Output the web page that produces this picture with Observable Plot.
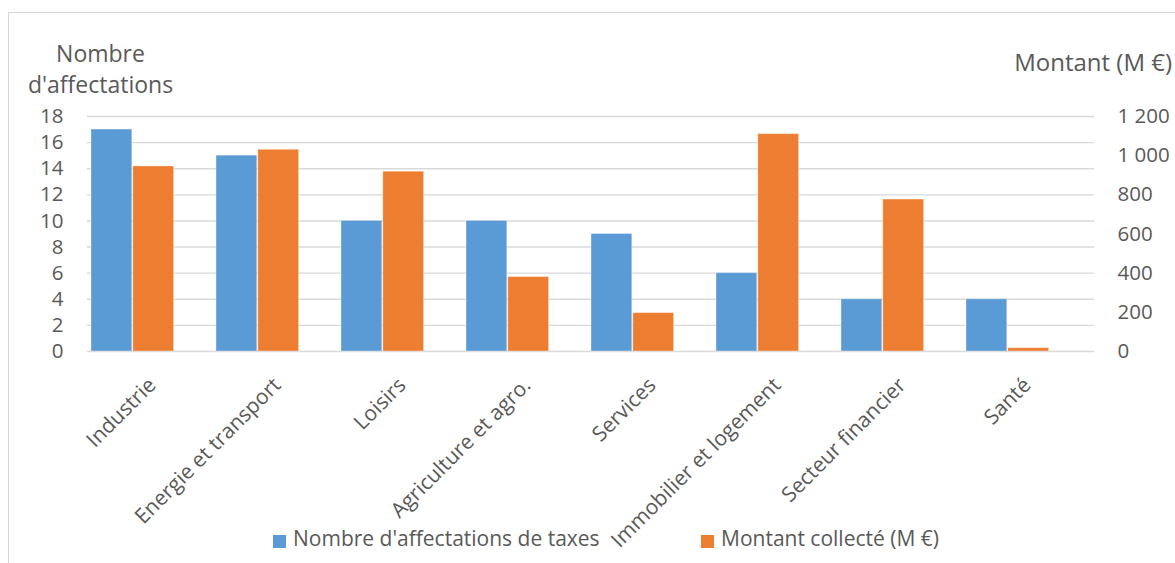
<!DOCTYPE html>
<html lang="fr">
<head>
<meta charset="utf-8">
<script src="https://cdn.jsdelivr.net/npm/d3@7"></script>
<script src="https://cdn.jsdelivr.net/npm/@observablehq/plot@0.6"></script>
<style>
  html, body { margin: 0; padding: 0; background: #fff; overflow: hidden; }
  #chart { position: relative; width: 1175px; height: 563px; font-family: "Open Sans", sans-serif; color: #595959; }
  #chart svg { position: absolute; left: 0; top: 0; }
  .border { position: absolute; left: 8px; top: 12px; width: 1300px; height: 700px; border-left: 1.3px solid #d9d9d9; border-top: 1.3px solid #d9d9d9; }
  .title { position: absolute; font-size: 23px; line-height: 31px; white-space: nowrap; }
  .legend { position: absolute; top: 524px; left: 0; font-size: 21px; line-height: 28px; white-space: nowrap; }
  .legend span.item { position: absolute; display: flex; align-items: flex-start; }
  .legend span.sw { display: inline-block; width: 13px; height: 13px; margin-right: 7px; margin-top: 10.5px; }
</style>
</head>
<body>
<div id="chart">
  <div class="border"></div>
</div>
<script>
// Secteurs et valeurs
const categories = ["Industrie", "Energie et transport", "Loisirs", "Agriculture et agro.", "Services", "Immobilier et logement", "Secteur financier", "Santé"];
const nombre = [17, 15, 10, 10, 9, 6, 4, 4];
const montant = [945, 1030, 918, 380, 196, 1110, 776, 17];

const leftTicks = [0, 2, 4, 6, 8, 10, 12, 14, 16, 18];
const rightTicks = [0, 200, 400, 600, 800, 1000, 1200];
const seriesNames = ["Nombre d'affectations de taxes", "Montant collecté (M €)"];
const colors = ["#5b9bd5", "#ed7d31"];

// L'axe de droite partage l'échelle y : 1 200 M € correspond à 18 affectations
const ratio = 1200 / 18;
const fr = d3.formatLocale({decimal: ",", thousands: "\u00a0", grouping: [3], currency: ["", " €"]});
const fmt = fr.format(",");

const rows = categories.map((c, i) => ({categorie: c, nombre: nombre[i], montant: montant[i]}));

const W = 1175, H = 563;
const step = 126, barW = 41.8;
const textColor = "#595959";
const font = "'Open Sans', sans-serif";

const plot = Plot.plot({
  width: W,
  height: H,
  marginTop: 116,
  marginBottom: 212,
  marginLeft: 87,
  marginRight: 81,
  style: {fontFamily: font, fontSize: "20.5px", color: textColor, background: "transparent", overflow: "visible"},
  x: {domain: categories, padding: 0, axis: null},
  y: {domain: [0, 18], axis: null},
  marks: [
    Plot.ruleY(leftTicks.filter(d => d > 0), {stroke: "#d9d9d9", strokeWidth: 1.4}),
    Plot.ruleY([0], {stroke: "#d9d9d9", strokeWidth: 1.6}),
    Plot.barY(rows, {x: "categorie", y: "nombre", fill: colors[0], insetLeft: 0, insetRight: step - barW,
      stroke: "#fff", strokeOpacity: 0.35, strokeWidth: 1}),
    Plot.barY(rows, {x: "categorie", y: d => d.montant / ratio, fill: colors[1], insetLeft: barW, insetRight: step - 2 * barW,
      stroke: "#fff", strokeOpacity: 0.35, strokeWidth: 1}),
    Plot.axisY({ticks: leftTicks, tickSize: 0, tickPadding: 24, anchor: "left", label: null,
      fontSize: 20.5, fill: textColor}),
    Plot.axisY({ticks: rightTicks.map(v => v / ratio), tickSize: 0, tickPadding: 23, anchor: "right", label: null,
      tickFormat: d => fmt(Math.round(d * ratio)), fontSize: 20.5, fill: textColor, textAnchor: "start"}),
    Plot.text(categories, {x: d => d, frameAnchor: "bottom", rotate: -45, textAnchor: "end",
      dx: 3, dy: 35, fontSize: 21, fill: textColor})
  ]
});
const chart = document.getElementById("chart");
chart.appendChild(plot);

// Titres des axes
const t1 = document.createElement("div");
t1.className = "title";
t1.style.left = "100.5px"; t1.style.top = "38px"; t1.style.transform = "translateX(-50%)"; t1.style.textAlign = "center";
t1.innerHTML = "Nombre<br>d'affectations";
chart.appendChild(t1);

const t2 = document.createElement("div");
t2.className = "title";
t2.style.right = (W - 1172) + "px"; t2.style.top = "46px"; t2.style.fontSize = "24px";
t2.textContent = "Montant (M €)";
chart.appendChild(t2);

// Légende
const legend = document.createElement("div");
legend.className = "legend";
const legendX = [273, 701];
seriesNames.forEach((name, i) => {
  const item = document.createElement("span");
  item.className = "item";
  item.style.left = legendX[i] + "px";
  const sw = document.createElement("span");
  sw.className = "sw";
  sw.style.background = colors[i];
  item.appendChild(sw);
  item.appendChild(document.createTextNode(name));
  legend.appendChild(item);
});
chart.appendChild(legend);
</script>
</body>
</html>
